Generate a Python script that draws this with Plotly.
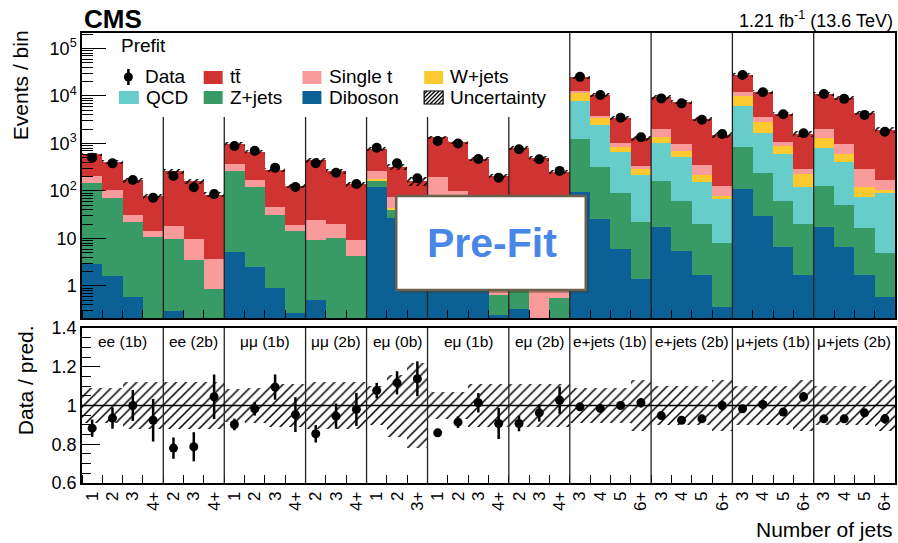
import numpy as np
import plotly.graph_objects as go

# ---------------- data ----------------
channels = ["ee (1b)", "ee (2b)", "μμ (1b)", "μμ (2b)", "eμ (0b)", "eμ (1b)", "eμ (2b)",
            "e+jets (1b)", "e+jets (2b)", "μ+jets (1b)", "μ+jets (2b)"]
jet_bins = [["1", "2", "3", "4+"], ["2", "3", "4+"], ["1", "2", "3", "4+"], ["2", "3", "4+"],
            ["1", "2", "3+"], ["1", "2", "3", "4+"], ["2", "3", "4+"],
            ["3", "4", "5", "6+"], ["3", "4", "5", "6+"], ["3", "4", "5", "6+"], ["3", "4", "5", "6+"]]

diboson = [2.9, 1.6, 0.6, 0.1, 0.3, 0, 0, 5.1, 2.5, 0.9, 0.27, 0.5, 0, 0, 120, 26.6, 10,
           25, 8, 2, 0.25, 0.33, 0, 0, 94, 25.7, 6.0, 1.4, 17.2, 5.5, 1.7, 0.36,
           110, 30, 6.5, 1.7, 17.7, 6.5, 1.7, 0.6]
zjets = [147, 68, 22, 10.8, 9.6, 3.5, 0.85, 260, 117.5, 30, 14.1, 8.8, 10.4, 4.35, 43, 14.4, 4,
         10, 4, 1, 0.4, 1.5, 0, 0.55, 1131, 299, 83, 20.6, 148, 56, 18.3, 7.7,
         720, 213, 55.5, 18.3, 109, 44, 14.7, 4.4]
qcd = [0, 0, 0, 0, 0, 0, 0, 0, 0, 0, 0, 0, 0, 0, 0, 0, 0, 0, 0, 0, 0, 0, 0, 0,
       6745, 2175, 561, 195, 835, 448, 137, 60, 5320, 1447, 533, 100, 688, 363, 60, 84]
wjets = [0, 0, 0, 0, 0, 0, 0, 0, 0, 0, 0, 0, 0, 0, 13, 2, 0.6, 1, 0.3, 0, 0, 0, 0, 0,
         3430, 900, 200, 69, 400, 195, 63, 12, 3950, 1150, 305, 105, 475, 181, 47, 16]
single_t = [60, 35, 9.1, 3.7, 8.7, 6.2, 2.9, 100, 48, 16, 4.8, 15.2, 9.5, 4.85, 89, 30.6, 15,
            164, 88, 15, 7, 20, 12, 6, 1500, 450, 150, 50, 590, 295, 132, 49,
            2200, 710, 200, 61, 730, 405, 163, 65]
ttbar = [380, 309, 138, 64, 246, 152, 80, 615, 505, 230, 108, 425, 245, 131, 490, 251, 135,
         1150, 960, 454, 202, 790, 478, 248, 11800, 6650, 2470, 954, 7360, 6600, 2880, 1380,
         15400, 8450, 3020, 1304, 8980, 8200, 4030, 1760]
data = [500, 382, 170, 72, 207, 120, 86, 885, 700, 310, 121, 383, 243, 140, 815, 383, 185,
        1130, 1000, 472, 190, 755, 465, 265, 25300, 10500, 3470, 1350, 8900, 7000, 3150, 1580,
        27700, 12000, 4120, 1640, 11000, 8700, 4000, 1770]
unc = [0.09, 0.09, 0.12, 0.12, 0.12, 0.12, 0.12, 0.085, 0.09, 0.11, 0.11, 0.12, 0.12, 0.12,
       0.10, 0.16, 0.22, 0.07, 0.07, 0.11, 0.11, 0.11, 0.11, 0.11, 0.09, 0.09, 0.09, 0.13,
       0.10, 0.10, 0.10, 0.13, 0.10, 0.10, 0.10, 0.13, 0.10, 0.10, 0.10, 0.13]
ratio = [0.883, 0.935, 1.0, 0.924, 0.78, 0.787, 1.045, 0.902, 0.983, 1.095, 0.953,
         0.854, 0.945, 0.98, 1.077, 1.117, 1.138, 0.859, 0.914, 1.014, 0.907,
         0.907, 0.962, 1.027, 0.993, 0.985, 1.0, 1.014, 0.948, 0.924, 0.931, 1.0,
         0.983, 1.005, 0.966, 1.045, 0.931, 0.931, 0.962, 0.931]
ratio_err = [0.045, 0.055, 0.08, 0.11, 0.055, 0.075, 0.115, 0.03, 0.035, 0.065, 0.09,
             0.045, 0.065, 0.085, 0.04, 0.06, 0.09, 0.02, 0.03, 0.05, 0.08,
             0.04, 0.045, 0.07, 0.008, 0.01, 0.012, 0.025, 0.01, 0.01, 0.012, 0.025,
             0.008, 0.008, 0.012, 0.025, 0.01, 0.01, 0.015, 0.025]

tick_labels = [lab for ch in jet_bins for lab in ch]
n = len(tick_labels)
x = np.arange(n)

layers = [("Diboson", diboson, "#0b6096"),
          ("Z+jets", zjets, "#389a64"),
          ("QCD", qcd, "#67cdca"),
          ("W+jets", wjets, "#fdc930"),
          ("Single t", single_t, "#f99b9a"),
          ("tt̄", ttbar, "#d03432")]

FONT = "Liberation Sans, Arial, Helvetica, sans-serif"
fig = go.Figure()

cum = np.zeros(n)
for name, vals, col in layers:
    v = np.array(vals, dtype=float)
    fig.add_trace(go.Bar(x=x, y=v, base=np.maximum(cum, 1e-3), width=1.0, name=name,
                         marker=dict(color=col, line=dict(width=0)), showlegend=False,
                         xaxis="x", yaxis="y"))
    cum = cum + v
total = cum
u = np.array(unc)

# uncertainty hatch on top of the stack
fig.add_trace(go.Bar(x=x, y=total * 2 * u, base=total * (1 - u), width=1.0, showlegend=False,
                     marker=dict(color="rgba(0,0,0,0)", line=dict(width=0),
                                 pattern=dict(shape="/", fgcolor="black", size=5, solidity=0.3,
                                              fgopacity=1, fillmode="overlay")),
                     xaxis="x", yaxis="y"))
fig.add_trace(go.Scatter(x=x, y=data, mode="markers", showlegend=False,
                         marker=dict(color="black", size=10), xaxis="x", yaxis="y"))

# ratio panel
fig.add_trace(go.Bar(x=x, y=2 * u, base=1 - u, width=1.0, showlegend=False,
                     marker=dict(color="rgba(0,0,0,0)", line=dict(width=0),
                                 pattern=dict(shape="/", fgcolor="black", size=7, solidity=0.22,
                                              fgopacity=1, fillmode="overlay")),
                     xaxis="x2", yaxis="y2"))
fig.add_trace(go.Scatter(x=x, y=ratio, mode="markers", showlegend=False,
                         marker=dict(color="black", size=9),
                         error_y=dict(type="data", array=ratio_err, color="black",
                                      thickness=2.5, width=0),
                         xaxis="x2", yaxis="y2"))

# ---------------- layout helpers ----------------
L, R, T, B = 82, 897, 33, 483


def px(v):
    return (v - L) / (R - L)


def py(v):
    return (B - v) / (B - T)


shapes = []
annotations = []

# channel separators
sizes = [len(c) for c in jet_bins]
edges = np.cumsum(sizes)
for i, e in enumerate(edges[:-1]):
    xe = e - 0.5
    ytop = 1.0 if i >= 6 else (318 - 117) / (318 - 33)
    shapes.append(dict(type="line", xref="x", yref="y domain", x0=xe, x1=xe, y0=0, y1=ytop,
                       line=dict(color="#222", width=1.3), layer="above"))
    shapes.append(dict(type="line", xref="x2", yref="y2 domain", x0=xe, x1=xe, y0=0, y1=1,
                       line=dict(color="#222", width=1.3), layer="above"))
shapes.append(dict(type="line", xref="x2 domain", yref="y2", x0=0, x1=1, y0=1, y1=1,
                   line=dict(color="black", width=1.5), layer="above"))

# channel labels
starts = np.concatenate([[0], edges[:-1]])
for name, s, e in zip(channels, starts, edges):
    annotations.append(dict(text=name, xref="x2", yref="y2 domain", x=(s + e - 1) / 2, y=0.91,
                            showarrow=False, font=dict(size=15.5, family=FONT, color="black"),
                            xanchor="center", yanchor="middle"))

# legend (manual)
def swatch(x0, y0, x1, y1, color):
    shapes.append(dict(type="rect", xref="paper", yref="paper", x0=px(x0), x1=px(x1),
                       y0=py(y1), y1=py(y0), fillcolor=color, line=dict(width=0), layer="above"))


def label(text, xp, yp, size=19):
    annotations.append(dict(text=text, xref="paper", yref="paper", x=px(xp), y=py(yp),
                            xanchor="left", yanchor="middle", showarrow=False,
                            font=dict(size=size, family=FONT, color="black")))


row1, row2 = 77, 97
# Data
shapes.append(dict(type="circle", xref="paper", yref="paper", x0=px(124), x1=px(133),
                   y0=py(81.5), y1=py(72.5), fillcolor="black", line=dict(width=0), layer="above"))
shapes.append(dict(type="line", xref="paper", yref="paper", x0=px(128.5), x1=px(128.5),
                   y0=py(85), y1=py(69), line=dict(color="black", width=2.5), layer="above"))
label("Data", 143, row1)
swatch(204, 71, 223, 84, "#d03432"); label("tt̄", 228, row1)
swatch(303, 71, 322, 84, "#f99b9a"); label("Single t", 328, row1)
swatch(425, 71, 444, 84, "#fdc930"); label("W+jets", 449, row1)
swatch(119, 91, 139, 104, "#67cdca"); label("QCD", 144, row2)
swatch(204, 91, 223, 104, "#389a64"); label("Z+jets", 228, row2)
swatch(303, 91, 322, 104, "#0b6096"); label("Diboson", 328, row2)
# uncertainty swatch (hatched)
hx0, hy0, hx1, hy1 = 425, 91, 444, 104
shapes.append(dict(type="rect", xref="paper", yref="paper", x0=px(hx0), x1=px(hx1),
                   y0=py(hy1), y1=py(hy0), fillcolor="white",
                   line=dict(color="black", width=1.2), layer="above"))
path = ""
for c in range(-10, 22, 4):
    pts = []
    for X in (hx0, hx1):
        Y = hy1 - (X - hx0 - c)
        if hy0 <= Y <= hy1:
            pts.append((X, Y))
    for Y in (hy0, hy1):
        X = hx0 + c + (hy1 - Y)
        if hx0 <= X <= hx1:
            pts.append((X, Y))
    pts = sorted(set(pts))
    if len(pts) >= 2:
        (a, b), (c2, d) = pts[0], pts[-1]
        path += f"M{px(a)},{py(b)} L{px(c2)},{py(d)} "
shapes.append(dict(type="path", xref="paper", yref="paper", path=path,
                   line=dict(color="black", width=1.2), layer="above"))
label("Uncertainty", 449, row2)
label("Prefit", 119, 46)

# texts
annotations.append(dict(text="<b>CMS</b>", xref="paper", yref="paper", x=px(82), y=py(19),
                        xanchor="left", yanchor="middle", showarrow=False,
                        font=dict(size=26, family=FONT, color="black")))
annotations.append(dict(text="1.21 fb<sup>-1</sup> (13.6 TeV)", xref="paper", yref="paper",
                        x=px(897), y=py(19), xanchor="right", yanchor="middle", showarrow=False,
                        font=dict(size=18, family=FONT, color="black")))
annotations.append(dict(text="Events / bin", xref="paper", yref="paper", x=px(21), y=py(85),
                        xanchor="center", yanchor="middle", showarrow=False, textangle=-90,
                        font=dict(size=21, family=FONT, color="black")))
annotations.append(dict(text="Data / pred.", xref="paper", yref="paper", x=px(25), y=py(380),
                        xanchor="center", yanchor="middle", showarrow=False, textangle=-90,
                        font=dict(size=21, family=FONT, color="black")))
annotations.append(dict(text="Number of jets", xref="paper", yref="paper", x=px(897), y=py(529),
                        xanchor="right", yanchor="middle", showarrow=False,
                        font=dict(size=21, family=FONT, color="black")))

# Pre-Fit box
shapes.append(dict(type="rect", xref="paper", yref="paper", x0=px(400), x1=px(590),
                   y0=py(293), y1=py(199), fillcolor="rgba(60,50,30,0.35)",
                   line=dict(width=0), layer="above"))
shapes.append(dict(type="rect", xref="paper", yref="paper", x0=px(397), x1=px(587),
                   y0=py(290), y1=py(196), fillcolor="white",
                   line=dict(color="#6b604c", width=2.5), layer="above"))
annotations.append(dict(text="<b>Pre-Fit</b>", xref="paper", yref="paper", x=px(493), y=py(243),
                        xanchor="center", yanchor="middle", showarrow=False,
                        font=dict(size=41, family=FONT, color="#4a86e6")))

major_log = [1, 10, 100, 1000, 10000, 100000]
major_txt = ["1", "10", "10<sup>2</sup>", "10<sup>3</sup>", "10<sup>4</sup>", "10<sup>5</sup>"]
minor_log = [m * 10 ** d for d in range(-1, 6) for m in range(2, 10)]
bin_edges = list(np.arange(n + 1) - 0.5)

axis_common = dict(showline=True, mirror=True, linecolor="black", linewidth=1.5,
                   showgrid=False, zeroline=False)

fig.update_layout(
    width=898, height=543,
    margin=dict(l=L, r=898 - R, t=T, b=543 - B),
    paper_bgcolor="white", plot_bgcolor="white",
    barmode="overlay", bargap=0,
    font=dict(family=FONT, color="black", size=18),
    showlegend=False,
    xaxis=dict(domain=[0, 1], anchor="y", range=[-0.5, n - 0.5], showticklabels=False,
               ticks="", matches="x2",
               minor=dict(tickvals=bin_edges, ticks="inside", ticklen=8, tickcolor="black",
                          tickwidth=1.2), **axis_common),
    yaxis=dict(domain=[(B - 318) / (B - T), 1], anchor="x", type="log", range=[-0.674, 5.326],
               tickvals=major_log, ticktext=major_txt, ticks="inside", ticklen=24,
               tickcolor="black", tickwidth=1.2, tickfont=dict(size=18),
               minor=dict(tickvals=minor_log, ticks="inside", ticklen=11, tickcolor="black",
                          tickwidth=1), **axis_common),
    xaxis2=dict(domain=[0, 1], anchor="y2", range=[-0.5, n - 0.5], tickvals=list(x),
                ticktext=tick_labels, tickangle=-90, ticks="", tickfont=dict(size=17),
                minor=dict(tickvals=bin_edges, ticks="inside", ticklen=8, tickcolor="black",
                           tickwidth=1.2), **axis_common),
    yaxis2=dict(domain=[0, (B - 328) / (B - T)], anchor="x2", range=[0.6, 1.4],
                tickvals=[0.6, 0.8, 1.0, 1.2, 1.4], ticktext=["0.6", "0.8", "1", "1.2", "1.4"],
                ticks="inside", ticklen=18, tickcolor="black", tickwidth=1.2,
                tickfont=dict(size=18),
                minor=dict(dtick=0.05, tick0=0.6, ticks="inside", ticklen=9, tickcolor="black",
                           tickwidth=1), **axis_common),
    shapes=shapes,
    annotations=annotations,
)

fig.write_html("out.html")
